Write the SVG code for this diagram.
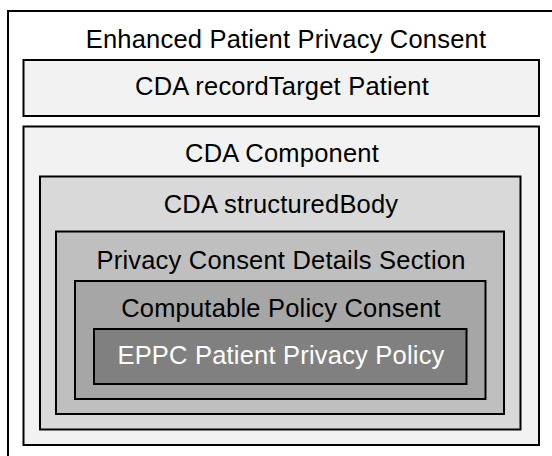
<svg xmlns="http://www.w3.org/2000/svg" width="552" height="456" viewBox="0 0 552 456">
<style>
.box{stroke:#000;stroke-width:2}
.t{font-family:"Liberation Sans",Arial,sans-serif;font-size:25.5px;letter-spacing:0.2px;text-anchor:middle;fill:#000}
.w{fill:#fff}
</style>
<rect width="552" height="456" fill="#fff"/>
<g id="outer">
<rect class="box" x="8" y="11" width="560" height="460" fill="#fff"/>
<text class="t" x="286" y="48">Enhanced Patient Privacy Consent</text>
</g>
<g id="recordTarget">
<rect class="box" x="23.5" y="60" width="515.5" height="56" fill="#f2f2f2"/>
<text class="t" x="282" y="95">CDA recordTarget Patient</text>
</g>
<g id="component">
<rect class="box" x="23.5" y="126.5" width="515.5" height="318.5" fill="#f2f2f2"/>
<text class="t" x="282" y="162">CDA Component</text>
</g>
<g id="structuredBody">
<rect class="box" x="40" y="176.5" width="480.5" height="253" fill="#d9d9d9"/>
<text class="t" x="281" y="213">CDA structuredBody</text>
</g>
<g id="section">
<rect class="box" x="56" y="231.5" width="448" height="182.5" fill="#bfbfbf"/>
<text class="t" x="281" y="269">Privacy Consent Details Section</text>
</g>
<g id="computable">
<rect class="box" x="75" y="281" width="410.5" height="118" fill="#a6a6a6"/>
<text class="t" x="281" y="317">Computable Policy Consent</text>
</g>
<g id="eppc">
<rect class="box" x="94" y="329" width="372.5" height="55" fill="#808080"/>
<text class="t w" x="281" y="364">EPPC Patient Privacy Policy</text>
</g>
<g id="connectors"/>
</svg>
